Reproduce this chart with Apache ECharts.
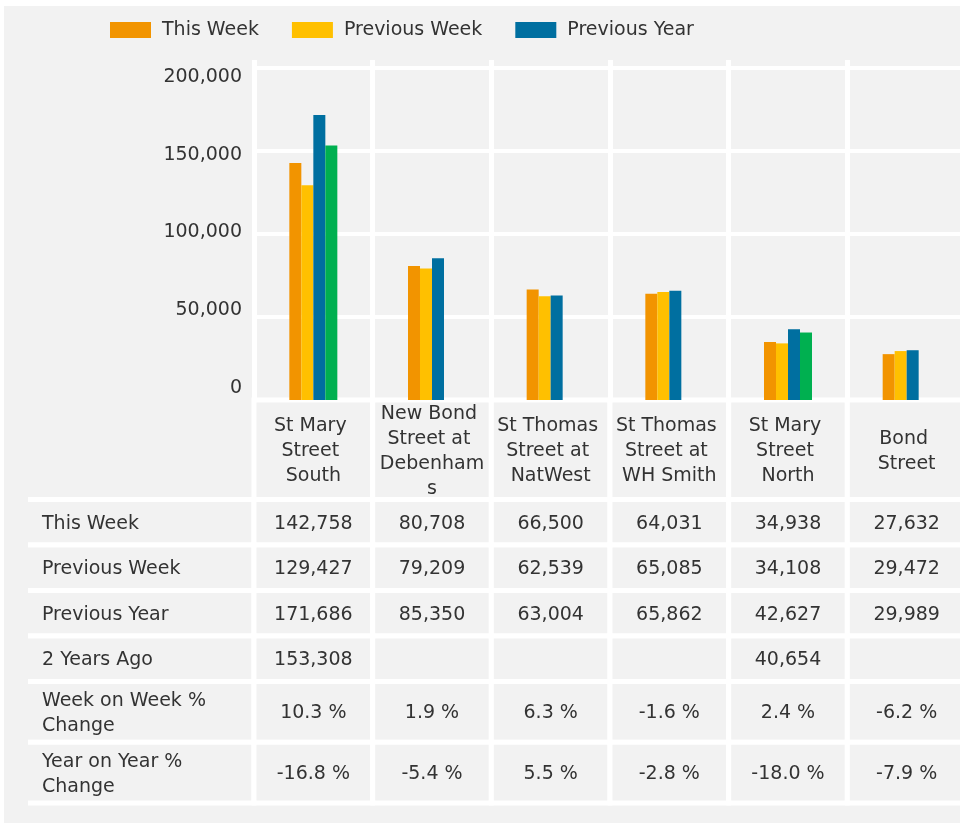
<!DOCTYPE html>
<html>
<head>
<meta charset="utf-8">
<script src="https://cdn.jsdelivr.net/npm/echarts@6/dist/echarts.min.js"></script>
<style>
  html, body { margin: 0; padding: 0; background: #fff; overflow: hidden; width: 960px; height: 823px; }
  #panel { position: absolute; left: 4px; top: 6px; width: 956px; height: 817px; background: #f2f2f2; }
  #chart { position: absolute; left: 0; top: 0; width: 972px; height: 823px; }
</style>
</head>
<body>
<div id="panel"></div>
<div id="chart"></div>
<script>
var locations = ['St Mary Street South', 'New Bond Street at Debenhams', 'St Thomas Street at NatWest',
  'St Thomas Street at WH Smith', 'St Mary Street North', 'Bond Street'];
var thisWeek = [142758, 80708, 66500, 64031, 34938, 27632];
var previousWeek = [129427, 79209, 62539, 65085, 34108, 29472];
var previousYear = [171686, 85350, 63004, 65862, 42627, 29989];
var twoYearsAgo = [153308, null, null, null, 40654, null];
var weekOnWeek = [10.3, 1.9, 6.3, -1.6, 2.4, -6.2];
var yearOnYear = [-16.8, -5.4, 5.5, -2.8, -18.0, -7.9];
var rowNames = ['This Week', 'Previous Week', 'Previous Year', '2 Years Ago',
  'Week on Week % Change', 'Year on Year % Change'];
var yMin = 0, yMax = 200000, yStep = 50000;

(function () {
  var ink = '#333333';
  var font = '"DejaVu Sans", sans-serif';
  var colors = ['#F29400', '#FFC000', '#006FA0', '#00B050'];

  // layout of the table under the bars (relative row heights, header first)
  var rowWeights = [2.19, 1, 1, 1, 1, 1.335, 1.335];
  var rowStart = [], acc = 0;
  rowWeights.forEach(function (w) { rowStart.push(acc); acc += w; });
  var rowTotal = acc;
  var labelLeft = 28, gap = 2.5;

  function num(v) { return v == null ? '' : v.toLocaleString('en-US'); }
  function pct(v) { return v.toFixed(1) + ' %'; }

  var rows = [
    thisWeek.map(num), previousWeek.map(num), previousYear.map(num), twoYearsAgo.map(num),
    weekOnWeek.map(pct), yearOnYear.map(pct)
  ];

  var cells = [];
  for (var r = 0; r < rowWeights.length; r++) {
    if (r > 0) cells.push([0, r, 1]);
    for (var c = 0; c < locations.length; c++) cells.push([c, r, 0]);
  }

  function cellText(c, r, isLabel) {
    if (r === 0) return locations[c];
    if (isLabel) return rowNames[r - 1];
    return rows[r - 1][c];
  }

  function renderCell(params, api) {
    var c = api.value(0), r = api.value(1), isLabel = api.value(2) === 1;
    var y0 = api.coord([0, rowStart[r]])[1];
    var y1 = api.coord([0, rowStart[r] + rowWeights[r]])[1];
    var bw = api.size([1, 0])[0];
    var x0, x1;
    if (isLabel) {
      x0 = labelLeft;
      x1 = api.coord([0, 0])[0] - bw / 2;
    } else {
      var xc = api.coord([c, 0])[0];
      x0 = xc - bw / 2;
      x1 = xc + bw / 2;
    }
    var padL = isLabel ? 0 : gap;
    var text = cellText(c, r, isLabel);
    return {
      type: 'group',
      children: [
        { type: 'rect', shape: { x: x0 - padL, y: y0 - gap, width: x1 - x0 + padL + gap, height: y1 - y0 + 2 * gap },
          style: { fill: '#ffffff' } },
        { type: 'rect', shape: { x: x0 + padL, y: y0 + gap, width: x1 - x0 - padL - gap, height: y1 - y0 - 2 * gap },
          style: { fill: '#f2f2f2' } },
        { type: 'text', style: {
            text: text,
            x: isLabel ? x0 + 14 : (x0 + x1) / 2,
            y: (y0 + y1) / 2 + 1.5,
            align: isLabel ? 'left' : 'center',
            verticalAlign: 'middle',
            width: isLabel ? 195 : 108,
            overflow: 'break',
            lineHeight: 25,
            fontSize: 19,
            fontFamily: font,
            fill: ink
          } }
      ]
    };
  }

  function barSeries(name, data, i) {
    return {
      name: name,
      type: 'bar',
      xAxisIndex: 0,
      yAxisIndex: 0,
      barWidth: 12,
      barGap: 0,
      data: data,
      itemStyle: { color: colors[i] }
    };
  }

  var whiteSplit = { show: true, interval: 0, lineStyle: { color: '#ffffff', width: 5 } };

  var chart = echarts.init(document.getElementById('chart'), null, { renderer: 'canvas' });
  chart.setOption({
    animation: false,
    backgroundColor: 'transparent',
    textStyle: { fontFamily: font },
    legend: {
      data: ['This Week', 'Previous Week', 'Previous Year'],
      left: 110,
      top: 20,
      padding: 0,
      icon: 'rect',
      itemWidth: 41,
      itemHeight: 16,
      itemGap: 33,
      textStyle: { color: ink, fontSize: 19, fontFamily: font, lineHeight: 20, padding: [0, 0, 0, 6] }
    },
    grid: [
      { left: 254, width: 712, top: 68, height: 332 },
      { left: 254, width: 712, top: 400, height: 403 },
      { left: 254, width: 712, top: 77, height: 311 },
      { left: 254, width: 712, top: 60, height: 10 }
    ],
    xAxis: [
      { gridIndex: 0, type: 'category', data: locations,
        axisLine: { show: false }, axisTick: { show: false }, axisLabel: { show: false },
        splitLine: whiteSplit },
      { gridIndex: 1, type: 'category', data: locations, show: false },
      { gridIndex: 2, type: 'value', show: false },
      { gridIndex: 3, type: 'category', data: locations,
        axisLine: { show: false }, axisTick: { show: false }, axisLabel: { show: false },
        splitLine: whiteSplit }
    ],
    yAxis: [
      { gridIndex: 0, type: 'value', min: yMin, max: yMax, interval: yStep,
        axisLine: { show: false }, axisTick: { show: false }, axisLabel: { show: false },
        splitLine: { lineStyle: { color: '#ffffff', width: 4 } } },
      { gridIndex: 1, type: 'value', min: 0, max: rowTotal, inverse: true, show: false },
      { gridIndex: 2, type: 'value', min: yMin, max: yMax, interval: yStep,
        axisLine: { show: false }, axisTick: { show: false }, splitLine: { show: false },
        axisLabel: { margin: 12, color: ink, fontSize: 19, fontFamily: font,
          formatter: function (v) { return num(v); } } },
      { gridIndex: 3, type: 'value', show: false }
    ],
    series: [
      barSeries('This Week', thisWeek, 0),
      barSeries('Previous Week', previousWeek, 1),
      barSeries('Previous Year', previousYear, 2),
      barSeries('2 Years Ago', twoYearsAgo, 3),
      {
        name: 'table',
        type: 'custom',
        xAxisIndex: 1,
        yAxisIndex: 1,
        renderItem: renderCell,
        data: cells,
        silent: true
      }
    ]
  });
})();
</script>
</body>
</html>
